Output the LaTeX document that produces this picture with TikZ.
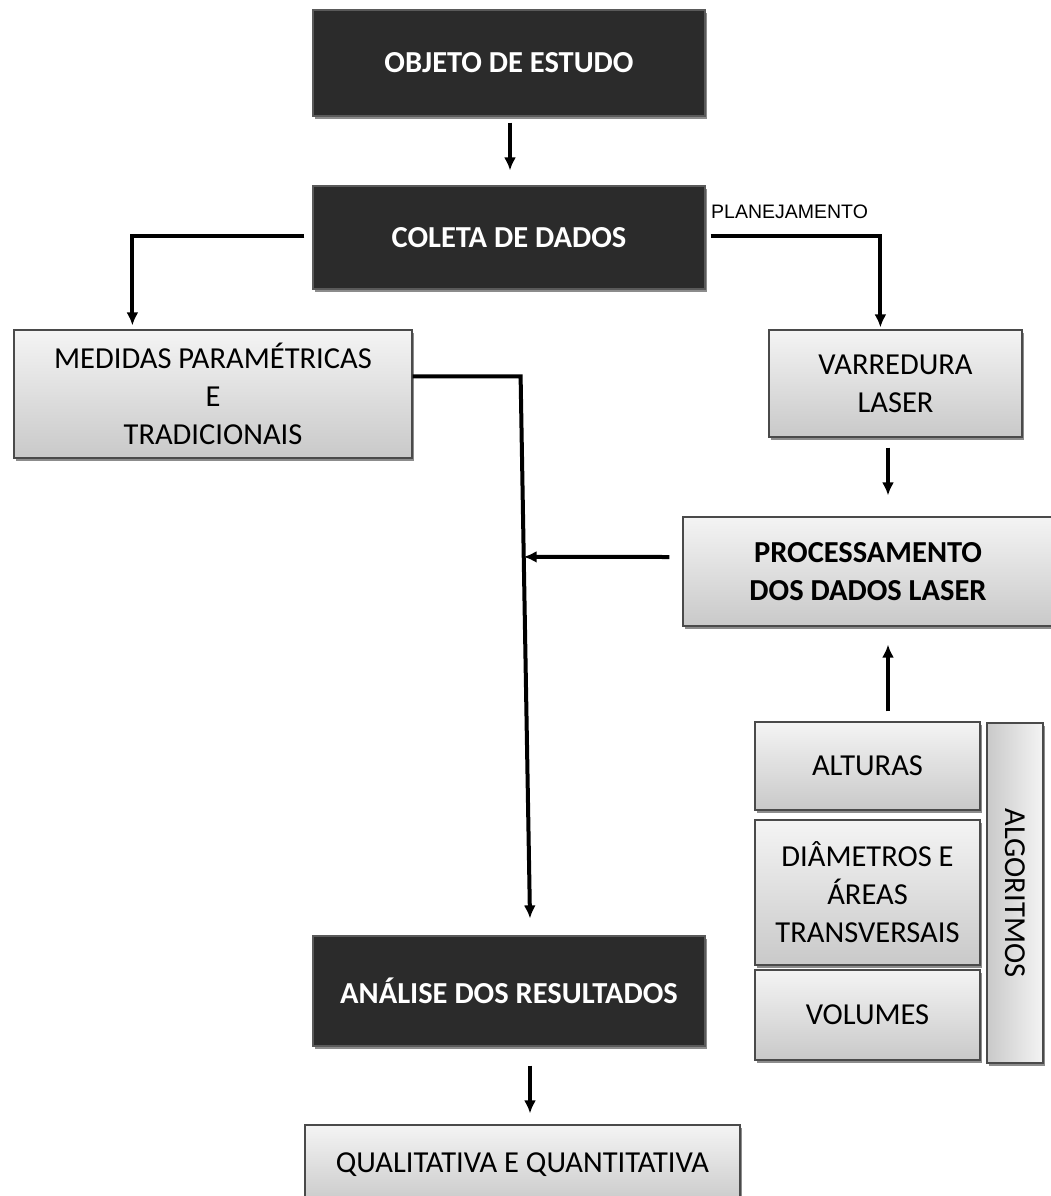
\documentclass[tikz,border=0pt]{standalone}
\usepackage{fontspec}
\setmainfont{Carlito}
\newfontfamily\arialfont{Liberation Sans}
\usetikzlibrary{arrows.meta,calc,shadows}

\definecolor{darkfill}{HTML}{2B2B2B}
\definecolor{darkedge}{HTML}{5A5A5A}
\definecolor{boxedge}{HTML}{4A4A4A}
\definecolor{lighttop}{HTML}{F4F4F4}
\definecolor{lightbot}{HTML}{C9C9C9}

\tikzset{
  boxfont/.style={font=\fontsize{30.5}{38}\selectfont},
  softshadow/.style={drop shadow={shadow xshift=2pt, shadow yshift=-3pt, opacity=0.45, fill=black}},
  darkbox/.style={font=\bfseries\fontsize{30.5}{38}\selectfont, draw=darkedge, line width=1.2pt,
    fill=darkfill, text=white, align=center, inner sep=0pt, softshadow},
  lightbox/.style={boxfont, draw=boxedge, line width=1.2pt, top color=lighttop, bottom color=lightbot,
    align=center, inner sep=0pt, softshadow},
  sidebox/.style={draw=boxedge, line width=1.2pt, left color=lightbot, right color=lighttop,
    inner sep=0pt, softshadow},
  arr/.style={line width=4pt, -{Latex[length=13pt,width=12pt]}},
  smalllabel/.style={font=\arialfont\fontsize{19.5}{23}\selectfont, inner sep=0pt}
}

\begin{document}
\begin{tikzpicture}[x=1pt, y=-1pt]
\useasboundingbox (0,0) rectangle (1050,1196);

% main column
\node[darkbox, minimum width=392pt, minimum height=106pt] (obj) at (509,63) {OBJETO DE ESTUDO};
\node[darkbox, minimum width=392pt, minimum height=103pt] (coleta) at (509,237.5) {COLETA DE DADOS};
\node[darkbox, minimum width=392pt, minimum height=110pt] (analise) at (509,991) {ANÁLISE DOS RESULTADOS};
\node[lightbox, minimum width=435pt, minimum height=80pt] (qual) at (522.5,1165) {QUALITATIVA E QUANTITATIVA};

% left branch
\node[lightbox, minimum width=398pt, minimum height=128pt] (medidas) at (213,394)
  {MEDIDAS PARAMÉTRICAS\\E\\TRADICIONAIS};

% right branch
\node[lightbox, minimum width=253pt, minimum height=107pt] (varredura) at (895.5,383.5) {VARREDURA\\LASER};
\node[lightbox, font=\bfseries\fontsize{30.5}{38}\selectfont, minimum width=370pt, minimum height=109pt]
  (proc) at (868,571.5) {PROCESSAMENTO\\DOS DADOS LASER};

% algorithms group
\node[lightbox, minimum width=225pt, minimum height=88pt] (alturas) at (867.5,766) {ALTURAS};
\node[lightbox, minimum width=225pt, minimum height=145pt] (diam) at (867.5,892.5)
  {DIÂMETROS E\\ÁREAS\\TRANSVERSAIS};
\node[lightbox, minimum width=225pt, minimum height=90pt] (vol) at (867.5,1015) {VOLUMES};
\node[sidebox, minimum width=56pt, minimum height=340pt] (algo) at (1015,893) {};
\node[boxfont, rotate=-90, inner sep=0pt] (algolbl) at (algo.center) {ALGORITMOS};

% label on the right branch
\node[smalllabel, anchor=base west] (plan) at (711,218) {PLANEJAMENTO};

% connectors
\draw[arr] ($(obj.south)+(1,6)$) -- ($(coleta.north)+(1,-15)$);
\draw[arr] ($(coleta.west)+(-8,-1.5)$) -| ($(medidas.north west)+(119,-4)$);
\draw[arr] ($(coleta.east)+(5,-1.5)$) -| ($(varredura.north west)+(112,-2)$);

\coordinate (bend) at ($(medidas.north east)+(108,47)$);
\coordinate (joinend) at ($(analise.north)+(21,-17)$);
\draw[arr] ($(medidas.north east)+(0,47)$) -- (bend) -- (joinend);
\coordinate (join) at ($(bend)!0.333!(joinend)$);
\draw[arr] ($(proc.west)+(-13,-14.5)$) -- (join);

\draw[arr] ($(varredura.south)+(-7.5,10)$) -- ($(proc.north)+(20,-21)$);
\draw[arr] ($(alturas.north)+(20.5,-10)$) -- ($(proc.south)+(20,18)$);
\draw[arr] ($(analise.south)+(21,19)$) -- ($(qual.north)+(7.5,-11)$);
\end{tikzpicture}
\end{document}
